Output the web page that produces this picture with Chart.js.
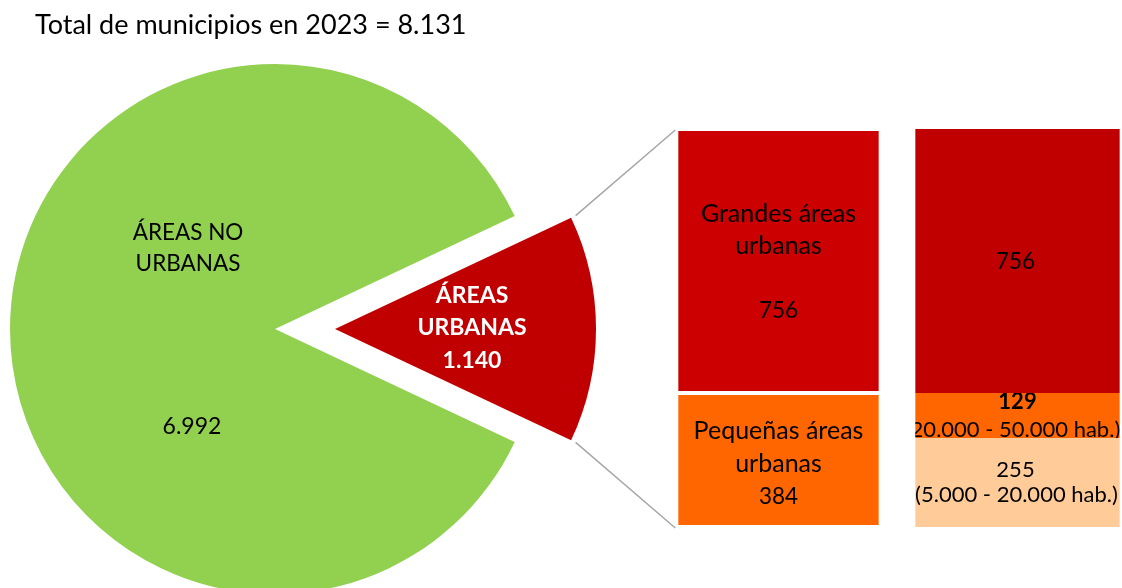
<!DOCTYPE html>
<html><head><meta charset="utf-8">
<script src="https://cdn.jsdelivr.net/npm/chart.js@4.4.0/dist/chart.umd.min.js"></script>
<style>
html,body{margin:0;padding:0;width:1122px;height:588px;overflow:hidden;background:#fff;}
canvas{position:absolute;left:0;top:0;}
</style></head><body>
<canvas id="pieGreen" width="1122" height="588"></canvas>
<canvas id="pieRed" width="1122" height="588"></canvas>
<canvas id="bars" width="1140" height="588"></canvas>
<script>
// ---------- data ----------
const TITLE = 'Total de municipios en 2023 = 8.131';
const pieLabels = ['ÁREAS NO URBANAS', 'ÁREAS URBANAS'];
const pieValues = [6992, 1140];
const barCategories = ['Tipo de área urbana', 'Tamaño de población'];
const grandesAreas = [756, 756];
const pequenasAreas = [384, null];
const tramo5000a20000 = [null, 255];
const tramo20000a50000 = [null, 129];
const tramoLabels = ['(5.000 - 20.000 hab.)', '(20.000 - 50.000 hab.)'];

// ---------- helpers ----------
const FAMILY = 'Lato, "Open Sans", sans-serif';
const fmt = v => String(v).replace(/\B(?=(\d{3})+(?!\d))/g, '.');
const GREEN = '#92D050', RED = '#C00000', RED2 = '#CC0000', ORANGE = '#FF6600', PEACH = '#FFCC99';
const total = pieValues[0] + pieValues[1];
// rotate so that the urban slice is centred on the right-hand horizontal
const rotation = 90 - 360 * pieValues[0] / total - 180 * pieValues[1] / total;

function text(ctx, str, x, y, size, bold, color) {
  ctx.font = (bold ? 'bold ' : '') + size + 'px ' + FAMILY;
  ctx.fillStyle = color || '#000';
  ctx.textAlign = 'center';
  ctx.textBaseline = 'middle';
  ctx.fillText(str, x, y);
}

Chart.defaults.animation = false;
Chart.defaults.events = [];
Chart.defaults.font.family = FAMILY;

// ---------- green (non urban) pie ----------
const greenLabels = {
  id: 'greenLabels',
  afterDraw(chart) {
    const el = chart.getDatasetMeta(0).data[0];
    const ctx = chart.ctx;
    ctx.save();
    const words = pieLabels[0].split(' ');
    text(ctx, words.slice(0, 2).join(' '), el.x - 87, el.y - 96, 22.5);
    text(ctx, words.slice(2).join(' '), el.x - 87, el.y - 65, 22.5);
    text(ctx, fmt(pieValues[0]), el.x - 83, el.y + 98, 23);
    ctx.restore();
  }
};
const pieGreen = new Chart(document.getElementById('pieGreen'), {
  type: 'pie',
  data: { labels: pieLabels, datasets: [{ data: pieValues, backgroundColor: [GREEN, 'rgba(0,0,0,0)'], borderWidth: 0 }] },
  options: {
    responsive: false, rotation: rotation, radius: 265,
    layout: { padding: { left: 35, right: 607, top: 0, bottom: 0 } },
    plugins: {
      legend: { display: false }, tooltip: { enabled: false },
      title: { display: true, text: TITLE, align: 'start', color: '#000',
               font: { size: 27, weight: 'normal', family: FAMILY, lineHeight: 1.2 },
               padding: { top: 9, bottom: 28.6 } }
    }
  },
  plugins: [greenLabels]
});

// ---------- red (urban) exploded slice ----------
const redLabels = {
  id: 'redLabels',
  afterDraw(chart) {
    const el = chart.getDatasetMeta(0).data[1];
    const ctx = chart.ctx;
    ctx.save();
    const words = pieLabels[1].split(' ');
    text(ctx, words[0], el.x + 137, el.y - 33, 23, true, '#fff');
    text(ctx, words[1], el.x + 137, el.y - 1, 23, true, '#fff');
    text(ctx, fmt(pieValues[1]), el.x + 137, el.y + 32, 23, true, '#fff');
    ctx.restore();
  }
};
const pieRed = new Chart(document.getElementById('pieRed'), {
  type: 'pie',
  data: { labels: pieLabels, datasets: [{ data: pieValues, backgroundColor: ['rgba(0,0,0,0)', RED], borderWidth: 0 }] },
  options: {
    responsive: false, rotation: rotation, radius: 261,
    layout: { padding: { left: 60, right: 512, top: 70, bottom: 0 } },
    plugins: { legend: { display: false }, tooltip: { enabled: false } }
  },
  plugins: [redLabels]
});

// ---------- stacked bars ----------
const barLabels = {
  id: 'barLabels',
  afterDraw(chart) {
    const ctx = chart.ctx;
    ctx.save();
    const mid = el => (el.y + el.base) / 2;
    const clipText = (el, lines) => {
      ctx.save();
      ctx.beginPath();
      ctx.rect(el.x - el.width / 2, el.y, el.width, el.base - el.y);
      ctx.clip();
      lines.forEach(([s, dy, size, bold, dx]) => text(ctx, s, el.x + (dx || 0), mid(el) + dy, size, bold));
      ctx.restore();
    };
    const mP = chart.getDatasetMeta(0), m5 = chart.getDatasetMeta(1), m20 = chart.getDatasetMeta(2), mG = chart.getDatasetMeta(3);
    clipText(mG.data[0], [['Grandes áreas', -47, 25], ['urbanas', -15, 25], [fmt(grandesAreas[0]), 50, 22.5]]);
    clipText(mP.data[0], [['Pequeñas áreas', -29, 25], ['urbanas', 4, 25], [fmt(pequenasAreas[0]), 37, 22.5]]);
    clipText(mG.data[1], [[fmt(grandesAreas[1]), 1, 22.5, false, -2]]);
    clipText(m20.data[1], [[fmt(tramo20000a50000[1]), -14, 22, true], [tramoLabels[1], 14.5, 22, false, -5]]);
    clipText(m5.data[1], [[fmt(tramo5000a20000[1]), -12.5, 22, false, -2], [tramoLabels[0], 12.5, 22, false, -1]]);

    // connector lines from the exploded slice to the first bar
    const arc = pieRed.getDatasetMeta(0).data[1];
    const top = mG.data[0], bot = mP.data[0];
    const left = top.x - top.width / 2;
    const r = arc.outerRadius + 5;
    ctx.strokeStyle = '#A6A6A6';
    ctx.lineWidth = 1.5;
    ctx.beginPath();
    ctx.moveTo(arc.x + r * Math.cos(arc.startAngle), arc.y + r * Math.sin(arc.startAngle));
    ctx.lineTo(left - 1, top.y + 1);
    ctx.moveTo(arc.x + r * Math.cos(arc.endAngle), arc.y + r * Math.sin(arc.endAngle));
    ctx.lineTo(left - 1, bot.base + 1);
    ctx.stroke();
    ctx.restore();
  }
};
const bw = c => c.dataIndex === 0 ? 2 : 0;
new Chart(document.getElementById('bars'), {
  type: 'bar',
  data: {
    labels: barCategories,
    datasets: [
      { label: 'Pequeñas áreas urbanas', data: pequenasAreas, backgroundColor: ORANGE },
      { label: tramoLabels[0], data: tramo5000a20000, backgroundColor: PEACH },
      { label: tramoLabels[1], data: tramo20000a50000, backgroundColor: ORANGE },
      { label: 'Grandes áreas urbanas', data: grandesAreas, backgroundColor: [RED2, RED] }
    ].map(d => Object.assign(d, { borderColor: '#fff', borderWidth: bw, borderSkipped: false,
                                 barPercentage: 0.855, categoryPercentage: 1 }))
  },
  options: {
    responsive: false,
    layout: { padding: { left: 659, right: 3, top: 129, bottom: 61 } },
    scales: {
      x: { display: false, stacked: true },
      y: { display: false, stacked: true, min: 0, max: 1140 }
    },
    plugins: { legend: { display: false }, tooltip: { enabled: false } }
  },
  plugins: [barLabels]
});
</script>
</body></html>
